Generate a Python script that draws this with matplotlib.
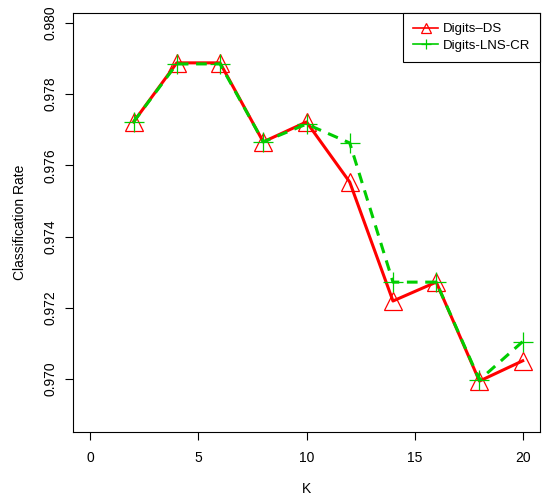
import matplotlib.pyplot as plt
import numpy as np

# ================= DATA =================
k_values = [2, 4, 6, 8, 10, 12, 14, 16, 18, 20]
digits_ds = [0.97722, 0.97888, 0.97888, 0.97666, 0.97722, 0.97553, 0.97219, 0.97272, 0.96994, 0.97051]
digits_lns_cr = [0.97722, 0.97885, 0.97885, 0.97666, 0.97716, 0.97663, 0.97272, 0.97272, 0.96997, 0.97105]
x_ticks = [0, 5, 10, 15, 20]
y_ticks = [0.970, 0.972, 0.974, 0.976, 0.978, 0.980]

# ================= PLOT =================
plt.rcParams.update({'font.family': 'Liberation Sans', 'font.size': 10})

fig = plt.figure(figsize=(5.42, 4.95), dpi=100)
ax = fig.add_axes([0.1347, 0.1273, 0.8616, 0.8464])

ax.plot(k_values, digits_ds, color='#ff0000', lw=2.2, marker='^', markersize=13,
        markerfacecolor='none', markeredgecolor='#ff0000', markeredgewidth=0.9,
        label='Digits\u2013DS', zorder=2)
ax.plot(k_values, digits_lns_cr, color='#00cd00', lw=2.2, ls=(0, (3.5, 2.5)), marker='+',
        markersize=15, markeredgewidth=0.9, label='Digits-LNS-CR', zorder=3)

ax.set_xlim(-0.8, 20.8)
ax.set_ylim(0.96851, 0.98028)
ax.set_xticks(x_ticks)
ax.set_yticks(y_ticks)
ax.set_yticklabels([f"{v:.3f}" for v in y_ticks], rotation=90, va='center')
ax.tick_params(direction='out', length=6, width=0.8, pad=8, labelsize=10)
ax.tick_params(axis='y', pad=5)
for s in ax.spines.values():
    s.set_linewidth(0.8)

ax.set_xlabel('K', labelpad=12)
ax.set_ylabel('Classification Rate', labelpad=12)

leg = ax.legend(loc='upper right', borderaxespad=0, fancybox=False, framealpha=1,
                edgecolor='black', handlelength=1.9, handletextpad=0.35,
                borderpad=0.75, labelspacing=0.35, fontsize=9.5)
leg.get_frame().set_linewidth(0.8)
for h in leg.legend_handles:
    h.set_markersize(7)
    h.set_linewidth(1.2)
    h.set_linestyle('-')

fig.savefig('out.png', dpi=100)
